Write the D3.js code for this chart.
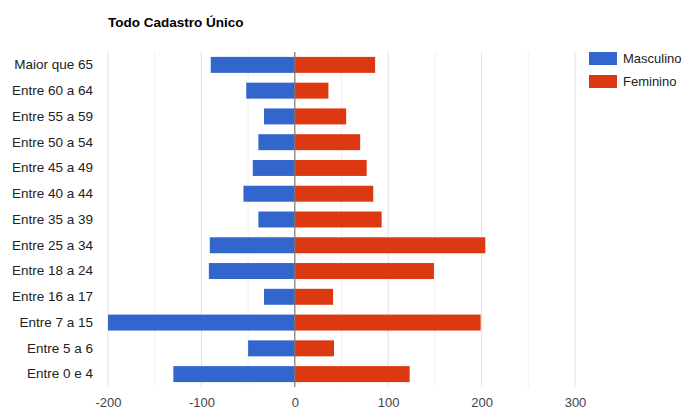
<!DOCTYPE html>
<html>
<head>
<meta charset="utf-8">
<script src="https://cdn.jsdelivr.net/npm/d3@7"></script>
<style>
  body { margin: 0; background: #fff; }
  svg text { font-family: "Liberation Sans", Arial, sans-serif; }
</style>
</head>
<body>
<div id="chart"></div>
<script>
// faixas etarias, de cima para baixo
var categories = ["Maior que 65", "Entre 60 a 64", "Entre 55 a 59", "Entre 50 a 54",
    "Entre 45 a 49", "Entre 40 a 44", "Entre 35 a 39", "Entre 25 a 34",
    "Entre 18 a 24", "Entre 16 a 17", "Entre 7 a 15", "Entre 5 a 6", "Entre 0 e 4"];
var masculino = [-90, -52, -33, -39, -45, -55, -39, -91, -92, -33, -200, -50, -130];
var feminino  = [86, 36, 55, 70, 77, 84, 93, 204, 149, 41, 199, 42, 123];
var seriesNames = ["Masculino", "Feminino"];
var majorTicks = [-200, -100, 0, 100, 200, 300];
var minorTicks = [-150, -50, 50, 150, 250];

var width = 686, height = 410;
var colours = ["#3366cc", "#dc3912"];

var svg = d3.select("#chart").append("svg")
    .attr("width", width)
    .attr("height", height);

var x = d3.scaleLinear().domain([-200, 300]).range([108, 575]);
var y = d3.scaleBand().domain(categories).range([52, 387]).paddingInner(0.38).paddingOuter(0.19);

// title
svg.append("text")
    .attr("x", 108).attr("y", 27)
    .attr("font-size", "13.5px").attr("font-weight", "bold")
    .attr("fill", "#000")
    .text("Todo Cadastro Único");

// gridlines
svg.append("g").selectAll("line.minor").data(minorTicks).enter().append("line")
    .attr("x1", function(d) { return x(d); }).attr("x2", function(d) { return x(d); })
    .attr("y1", 52).attr("y2", 387)
    .attr("stroke", "#f0f0f0").attr("stroke-width", 1);
svg.append("g").selectAll("line.major").data(majorTicks.filter(function(d) { return d != 0; })).enter().append("line")
    .attr("x1", function(d) { return x(d); }).attr("x2", function(d) { return x(d); })
    .attr("y1", 52).attr("y2", 387)
    .attr("stroke", "#e0e0e0").attr("stroke-width", 1);

// bars
var rows = categories.map(function(c, i) { return {cat: c, vals: [masculino[i], feminino[i]]}; });
[0, 1].forEach(function(s) {
    svg.append("g").selectAll("rect").data(rows).enter().append("rect")
        .attr("x", function(d) { return x(Math.min(0, d.vals[s])); })
        .attr("width", function(d) { return Math.abs(x(d.vals[s]) - x(0)); })
        .attr("y", function(d) { return y(d.cat); })
        .attr("height", y.bandwidth())
        .attr("fill", colours[s]);
});

// zero line
svg.append("line")
    .attr("x1", x(0)).attr("x2", x(0))
    .attr("y1", 52).attr("y2", 387)
    .attr("stroke", "#777").attr("stroke-width", 1.2);

// axes (no domain line, no tick marks)
var xAxis = svg.append("g")
    .attr("transform", "translate(0,387)")
    .call(d3.axisBottom(x).tickValues(majorTicks).tickSize(0).tickPadding(11)
        .tickFormat(function(d) { return String(d); }));
xAxis.select(".domain").remove();
xAxis.selectAll("text").attr("font-size", "13px").attr("fill", "#444")
    .style("font-family", "'Liberation Sans', Arial, sans-serif");

var yAxis = svg.append("g")
    .attr("transform", "translate(93,0)")
    .call(d3.axisLeft(y).tickSize(0).tickPadding(0));
yAxis.select(".domain").remove();
yAxis.selectAll("text").attr("font-size", "13.5px").attr("fill", "#222")
    .style("font-family", "'Liberation Sans', Arial, sans-serif");

// legend
var legend = svg.append("g").selectAll("g").data(seriesNames).enter().append("g")
    .attr("transform", function(d, i) { return "translate(589," + (52 + i * 23) + ")"; });
legend.append("rect")
    .attr("width", 28).attr("height", 13)
    .attr("fill", function(d, i) { return colours[i]; });
legend.append("text")
    .attr("x", 34).attr("y", 11)
    .attr("font-size", "13px").attr("fill", "#222")
    .text(function(d) { return d; });
</script>
</body>
</html>
